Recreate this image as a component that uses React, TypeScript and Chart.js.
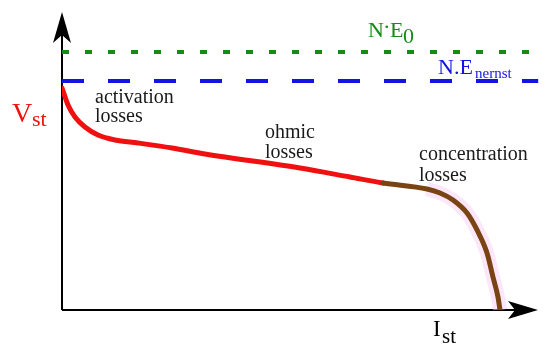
import React, { useEffect, useRef } from "react";
import { Chart, registerables } from "chart.js";

Chart.register(...registerables);

// Stack current (relative units) and stack voltage (relative units)
const currentValues = [0, 1.25, 2.7, 4.78, 7.48, 11.02, 15.8, 22.87, 29.73, 49.48, 59.88, 66.74, 75.88, 78.59, 81.29, 84.2, 86.28, 88.36, 89.6, 90.64, 91.06];
const voltageValues = [74.5, 68.79, 64.77, 61.41, 58.72, 57.05, 56.04, 54.36, 52.35, 47.65, 44.63, 42.62, 40.6, 39.26, 36.91, 32.55, 26.85, 19.13, 11.07, 4.36, 0];
const concentrationStart = 67.5;
const refLineX = [0, 99];
const nernstLevel = 76.85;
const e0Level = 86.58;

const RED = "#f01010";
const BROWN = "#7a4314";
const GREEN = "#168c16";
const BLUE = "#1414e0";

const decorPlugin = {
  id: "decor",
  beforeDatasetsDraw(chart: any) {
    const { ctx, chartArea } = chart;
    const xs = chart.scales.x;
    const ys = chart.scales.y;
    const x0 = xs.getPixelForValue(0);
    const y0 = ys.getPixelForValue(0);
    const top = chartArea.top;
    const tipX = chartArea.right - 5;
    ctx.save();
    ctx.strokeStyle = "#000";
    ctx.fillStyle = "#000";
    ctx.lineWidth = 2;
    ctx.beginPath();
    ctx.moveTo(x0, y0);
    ctx.lineTo(x0, top + 20);
    ctx.moveTo(x0, y0);
    ctx.lineTo(tipX - 20, y0);
    ctx.stroke();
    // y arrow
    ctx.beginPath();
    ctx.moveTo(x0, top);
    ctx.lineTo(x0 + 9, top + 31);
    ctx.lineTo(x0, top + 23);
    ctx.lineTo(x0 - 9, top + 31);
    ctx.closePath();
    ctx.fill();
    // x arrow
    ctx.beginPath();
    ctx.moveTo(tipX, y0);
    ctx.lineTo(tipX - 30, y0 - 9);
    ctx.lineTo(tipX - 23, y0);
    ctx.lineTo(tipX - 30, y0 + 9);
    ctx.closePath();
    ctx.fill();
    ctx.restore();
  },
  afterDraw(chart: any) {
    const { ctx } = chart;
    ctx.save();
    ctx.textBaseline = "alphabetic";
    ctx.textAlign = "left";
    const serif = "'Liberation Serif', 'DejaVu Serif', serif";
    ctx.fillStyle = "#1a1a1a";
    ctx.font = `20px ${serif}`;
    ctx.fillText("activation", 95, 103);
    ctx.fillText("losses", 95, 122);
    ctx.fillText("ohmic", 265, 138);
    ctx.fillText("losses", 265, 158);
    ctx.fillText("concentration", 419, 160);
    ctx.fillText("losses", 419, 181);
    // V_st
    ctx.fillStyle = RED;
    ctx.font = `28px ${serif}`;
    ctx.fillText("V", 12, 122);
    ctx.font = `22px ${serif}`;
    ctx.fillText("st", 32, 126);
    // I_st
    ctx.fillStyle = "#000";
    ctx.font = `23px ${serif}`;
    ctx.fillText("I", 433, 336);
    ctx.font = `21px ${serif}`;
    ctx.fillText("st", 442, 343);
    // N·E0
    ctx.fillStyle = GREEN;
    ctx.font = `22px ${serif}`;
    ctx.fillText("N", 368, 37);
    ctx.fillText(".", 384, 28);
    ctx.fillText("E", 390, 37);
    ctx.fillText("0", 403, 43);
    // N.E nernst
    ctx.fillStyle = BLUE;
    ctx.font = `22px ${serif}`;
    ctx.fillText("N.E", 438, 74);
    ctx.font = `15px ${serif}`;
    ctx.fillText("nernst", 475, 78);
    ctx.restore();
  },
};

export default function App() {
  const ref = useRef<HTMLCanvasElement>(null);
  useEffect(() => {
    document.body.style.margin = "0";
    const curve = currentValues.map((x, i) => ({ x, y: voltageValues[i] }));
    const halo = curve.filter((p) => p.x >= concentrationStart);
    const chart = new Chart(ref.current!, {
      type: "line",
      data: {
        datasets: [
          {
            data: refLineX.map((x) => ({ x, y: e0Level })),
            borderColor: GREEN,
            borderWidth: 4,
            borderDash: [7, 16],
            pointRadius: 0,
            order: 1,
          },
          {
            data: refLineX.map((x) => ({ x, y: nernstLevel })),
            borderColor: BLUE,
            borderWidth: 4,
            borderDash: [22, 24],
            pointRadius: 0,
            order: 1,
          },
          {
            data: halo,
            borderColor: "rgba(250,205,245,0.5)",
            borderWidth: 14,
            pointRadius: 0,
            cubicInterpolationMode: "monotone",
            order: 3,
          },
          {
            data: curve,
            borderColor: RED,
            borderWidth: 5,
            pointRadius: 0,
            cubicInterpolationMode: "monotone",
            borderCapStyle: "round",
            segment: {
              borderColor: (c: any) => (c.p0.parsed.x >= concentrationStart - 1 ? BROWN : RED),
            },
            order: 2,
          },
        ],
      },
      options: {
        responsive: false,
        animation: false,
        devicePixelRatio: 1,
        layout: { padding: { left: 62, right: 7, top: 12, bottom: 44 } },
        plugins: { legend: { display: false }, tooltip: { enabled: false } },
        scales: {
          x: { type: "linear", min: 0, max: 100, display: false },
          y: { type: "linear", min: 0, max: 100, display: false },
        },
      },
      plugins: [decorPlugin],
    } as any);
    return () => chart.destroy();
  }, []);
  return (
    <div style={{ width: 550, height: 354, background: "#fff" }}>
      <canvas ref={ref} width={550} height={354} />
    </div>
  );
}
